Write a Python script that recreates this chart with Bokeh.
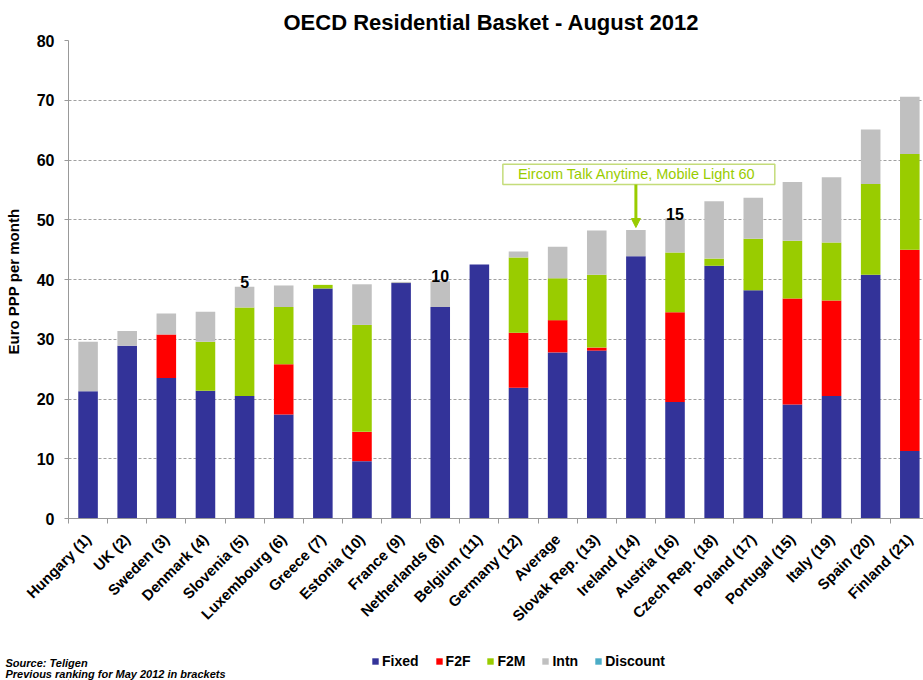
import numpy as np
from bokeh.plotting import figure
from bokeh.layouts import column
from bokeh.models import (ColumnDataSource, Range1d, FixedTicker, Label, Arrow,
                          NormalHead, Legend, LegendItem, Title)
from bokeh.core.properties import value
from bokeh.embed import file_html
from bokeh.resources import INLINE

countries = ["Hungary (1)", "UK (2)", "Sweden (3)", "Denmark (4)", "Slovenia (5)",
             "Luxembourg (6)", "Greece (7)", "Estonia (10)", "France (9)",
             "Netherlands (8)", "Belgium (11)", "Germany (12)", "Average",
             "Slovak Rep. (13)", "Ireland (14)", "Austria (16)", "Czech Rep. (18)",
             "Poland (17)", "Portugal (15)", "Italy (19)", "Spain (20)", "Finland (21)"]
fixed = [21.3, 28.9, 23.5, 21.4, 20.5, 17.4, 38.5, 9.6, 39.4, 35.4, 42.5,
         21.9, 27.8, 28.1, 43.9, 19.5, 42.3, 38.2, 19.1, 20.5, 40.8, 11.3]
f2f = [0, 0, 7.3, 0, 0, 8.4, 0, 4.9, 0, 0, 0,
       9.2, 5.4, 0.5, 0, 15.0, 0, 0, 17.7, 16.0, 0, 33.7]
f2m = [0, 0, 0, 8.2, 14.8, 9.6, 0.6, 17.9, 0, 0, 0,
       12.6, 7.0, 12.2, 0, 10.0, 1.2, 8.6, 9.7, 9.7, 15.2, 16.0]
intn = [8.3, 2.5, 3.5, 5.0, 3.5, 3.6, 0, 6.8, 0.2, 4.3, 0,
        1.0, 5.3, 7.4, 4.4, 5.7, 9.6, 6.9, 9.8, 10.9, 9.1, 9.6]
discount = [0] * 22
rank_marks = ["", "", "", "", "5", "", "", "", "", "10", "",
              "", "", "", "", "15", "", "", "", "", "", ""]
y_ticks = [0, 10, 20, 30, 40, 50, 60, 70, 80]

series = ["Fixed", "F2F", "F2M", "Intn", "Discount"]
colors = ["#333399", "#FF0000", "#99CC00", "#C0C0C0", "#4BACC6"]

FONT = "Liberation Sans"
W = 923
n = len(countries)
xpos = [i + 0.5 for i in range(n)]
totals = list(np.array(fixed) + np.array(f2f) + np.array(f2m) + np.array(intn))

src = ColumnDataSource(dict(x=xpos, Fixed=fixed, F2F=f2f, F2M=f2m, Intn=intn,
                            Discount=discount, total=totals, rank=rank_marks))

p = figure(width=W, height=645, x_range=Range1d(0, 21.85), y_range=Range1d(0, 80),
           output_backend="svg", toolbar_location=None,
           title="OECD Residential Basket - August 2012",
           min_border_left=68, min_border_right=0, min_border_top=40,
           min_border_bottom=127)
p.outline_line_color = None
p.background_fill_color = "white"
p.border_fill_color = "white"

p.title.align = "left"
p.title.offset = 215
p.title.text_font = FONT
p.title.text_font_style = "bold"
p.title.text_font_size = "22px"
p.title.text_color = "black"
p.title.standoff = 12

p.vbar_stack(series, x="x", width=0.5, source=src, color=colors, line_color=None)

# rank marks above bars
p.text(x="x", y="total", text="rank", source=src, text_align="center",
       text_baseline="bottom", text_font=value(FONT), text_font_style="bold",
       text_font_size="16px", text_color="black", y_offset=1)

# grid & axes
p.xgrid.grid_line_color = None
p.ygrid.grid_line_color = "#a0a0a0"
p.ygrid.grid_line_dash = "3 2"
p.ygrid.grid_line_width = 1

yax = p.yaxis[0]
yax.ticker = FixedTicker(ticks=y_ticks)
yax.axis_line_color = "#999999"
yax.major_tick_line_color = "#999999"
yax.major_tick_out = 4
yax.major_tick_in = 0
yax.minor_tick_line_color = None
yax.major_label_text_font = FONT
yax.major_label_text_font_style = "bold"
yax.major_label_text_font_size = "16px"
yax.major_label_text_color = "black"
yax.major_label_standoff = 10
yax.axis_label = "Euro  PPP per month"
yax.axis_label_text_font = FONT
yax.axis_label_text_font_style = "bold"
yax.axis_label_text_font_size = "15px"
yax.axis_label_text_color = "black"
yax.axis_label_standoff = 12

xax = p.xaxis[0]
xax.ticker = FixedTicker(ticks=xpos, minor_ticks=list(range(n + 1)))
xax.major_label_overrides = {x: c for x, c in zip(xpos, countries)}
xax.axis_line_color = "#999999"
xax.major_tick_line_color = None
xax.minor_tick_line_color = "#999999"
xax.minor_tick_out = 5
xax.minor_tick_in = 0
xax.major_label_orientation = np.pi / 4
xax.major_label_text_font = FONT
xax.major_label_text_font_style = "bold"
xax.major_label_text_font_size = "15px"
xax.major_label_text_color = "black"
xax.major_label_standoff = 12

# Ireland callout
ire = countries.index("Ireland (14)")
box_l, box_r, box_b, box_t = xpos[ire] - 3.4, xpos[ire] + 3.55, 55.9, 59.3
p.quad(left=[box_l], right=[box_r], bottom=[box_b], top=[box_t],
       fill_color="white", line_color="#C4DC7A", line_width=1.5)
p.add_layout(Label(x=(box_l + box_r) / 2, y=(box_b + box_t) / 2,
                   text="Eircom Talk Anytime, Mobile  Light 60", text_align="center",
                   text_baseline="middle", text_font=FONT, text_font_size="14.5px",
                   text_color="#99CC00"))
p.add_layout(Arrow(x_start=xpos[ire], y_start=box_b, x_end=xpos[ire],
                   y_end=totals[ire] + 0.4, line_color="#99CC00", line_width=3,
                   end=NormalHead(size=9, fill_color="#99CC00", line_color="#99CC00")))

# footer strip: legend + source notes
FH = 35
foot = figure(width=W, height=FH, x_range=Range1d(0, 855), y_range=Range1d(0, FH),
              x_axis_type=None, y_axis_type=None, output_backend="svg",
              toolbar_location=None, min_border=0)
foot.outline_line_color = None
foot.xgrid.grid_line_color = None
foot.ygrid.grid_line_color = None
items = []
for s, c in zip(series, colors):
    r = foot.vbar(x=[-100], top=[1], width=1, color=c, line_color=None)
    items.append(LegendItem(label=s, renderers=[r]))
leg = Legend(items=items, orientation="horizontal", location=(303, 11),
             glyph_width=8, glyph_height=8, label_standoff=3, spacing=16,
             padding=0, margin=0, border_line_color=None, background_fill_alpha=0,
             label_text_font=FONT, label_text_font_style="bold",
             label_text_font_size="14px", label_text_color="black",
             label_height=14, label_width=10)
foot.add_layout(leg, "center")

for txt, so in [("Source:  Teligen", -47), ("Previous ranking for  May 2012 in brackets", -26)]:
    foot.add_layout(Title(text=txt, align="left", vertical_align="top", offset=-63,
                          standoff=so, text_font=FONT, text_font_style="bold italic",
                          text_font_size="11px", text_color="black"), "below")

layout = column(p, foot, spacing=0)
open("out.html", "w").write(file_html(layout, INLINE))
